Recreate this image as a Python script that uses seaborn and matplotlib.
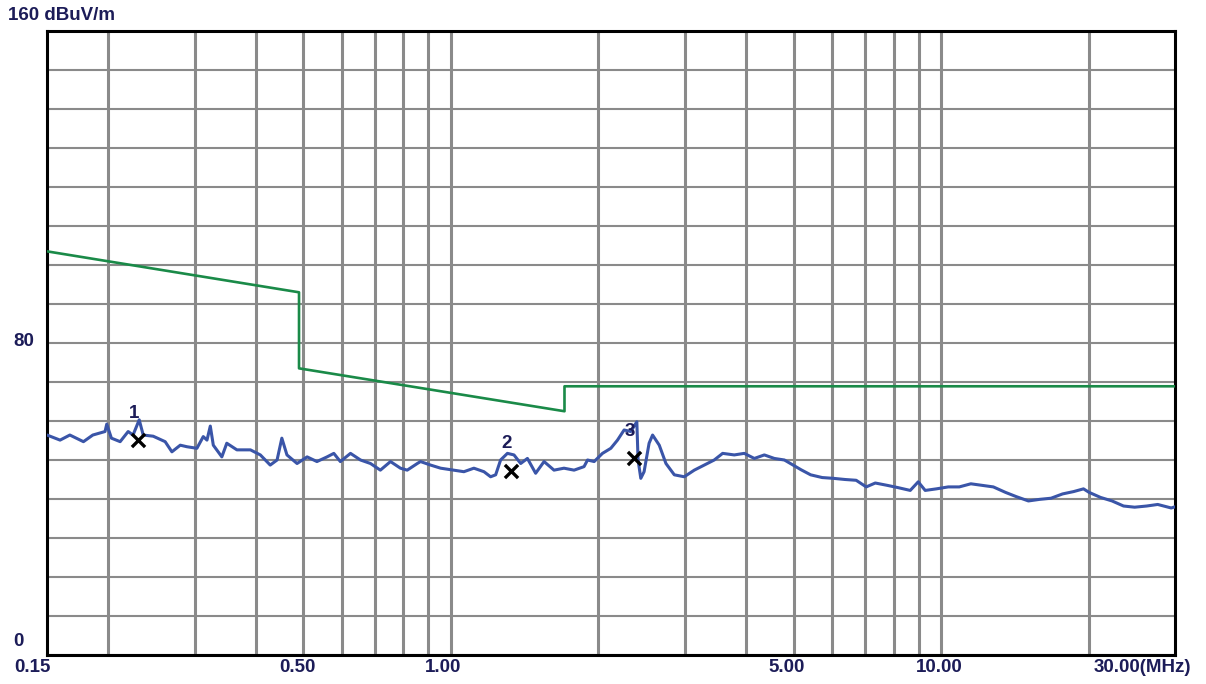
import numpy as np
import pandas as pd
import matplotlib
matplotlib.use("Agg")
import matplotlib.pyplot as plt
import seaborn as sns

# ---------------- data ----------------
trace_freq = [0.150, 0.1595, 0.167, 0.178, 0.186, 0.197, 0.1986, 0.203, 0.2115, 0.2196,
              0.2247, 0.2313, 0.2357, 0.247, 0.2613, 0.2697, 0.2805, 0.2895, 0.3033, 0.3125,
              0.318, 0.323, 0.3276, 0.341, 0.349, 0.366, 0.390, 0.4086, 0.428, 0.442,
              0.452, 0.463, 0.4855, 0.509, 0.533, 0.559, 0.577, 0.595, 0.624, 0.654,
              0.6855, 0.718, 0.753, 0.789, 0.8145, 0.854, 0.867, 0.909, 0.953, 1.014,
              1.063, 1.114, 1.168, 1.205, 1.234, 1.263, 1.304, 1.345, 1.388, 1.4325,
              1.489, 1.549, 1.623, 1.701, 1.7835, 1.869, 1.900, 1.960, 2.038, 2.1195,
              2.187, 2.256, 2.328, 2.395, 2.409, 2.44, 2.478, 2.537, 2.579, 2.661,
              2.746, 2.856, 2.9925, 3.137, 3.288, 3.445, 3.584, 3.785, 3.967, 4.159,
              4.359, 4.569, 4.79, 5.037, 5.18, 5.418, 5.72, 6.024, 6.37, 6.71,
              7.035, 7.34, 7.764, 8.18, 8.65, 8.98, 9.28, 9.78, 10.34, 10.89,
              11.50, 12.14, 12.78, 13.53, 14.24, 15.07, 15.87, 16.76, 17.69, 18.63,
              19.52, 20.04, 21.15, 22.32, 23.56, 24.82, 26.26, 27.66, 29.47, 30.0]
trace_level = [56.4, 55.1, 56.4, 54.7, 56.4, 57.3, 59.2, 55.6, 54.7, 57.3,
               56.4, 60.3, 56.4, 56.1, 54.7, 52.1, 53.8, 53.4, 53.0, 56.0,
               55.1, 58.7, 53.8, 50.8, 54.3, 52.6, 52.6, 51.3, 48.7, 50.0,
               55.6, 51.3, 49.1, 50.8, 49.6, 50.8, 51.7, 49.6, 51.7, 50.0,
               49.1, 47.4, 49.6, 47.9, 47.4, 49.1, 49.6, 48.7, 47.9, 47.4,
               47.0, 47.9, 47.0, 45.7, 46.2, 50.0, 51.7, 51.3, 49.1, 50.4,
               46.6, 49.6, 47.4, 47.9, 47.4, 48.3, 50.0, 49.6, 51.7, 53.0,
               55.1, 57.7, 57.3, 59.8, 50.0, 45.3, 47.0, 54.3, 56.4, 53.8,
               49.1, 46.2, 45.7, 47.4, 48.7, 50.0, 51.7, 51.3, 51.7, 50.4,
               51.3, 50.4, 50.0, 48.4, 47.5, 46.2, 45.5, 45.3, 45.0, 44.8,
               43.1, 44.1, 43.5, 42.9, 42.2, 44.4, 42.2, 42.6, 43.1, 43.1,
               43.9, 43.5, 43.1, 41.7, 40.6, 39.5, 39.9, 40.2, 41.3, 41.9,
               42.6, 41.7, 40.4, 39.5, 38.2, 37.9, 38.2, 38.6, 37.7, 38.0]

limit_freq = [0.15, 0.49, 0.49, 1.705, 1.705, 30.0]
limit_level = [103.5, 93.0, 73.5, 62.5, 68.9, 68.9]

marker_freq = [0.2304, 1.324, 2.366]
marker_level = [55.1, 47.2, 50.4]
marker_names = ["1", "2", "3"]

grid_freqs = [0.2, 0.3, 0.4, 0.5, 0.6, 0.7, 0.8, 0.9, 1.0,
              2, 3, 4, 5, 6, 7, 8, 9, 10, 20]
grid_levels = list(range(0, 161, 10))

xtick_freqs = [0.15, 0.5, 1.0, 5.0, 10.0, 30.0]
xtick_labels = ["0.15", "0.50", "1.00", "5.00", "10.00", "30.00(MHz)"]
ytick_levels = [160, 80, 0]
ytick_labels = ["160 dBuV/m", "80", "0"]

# ---------------- style ----------------
sns.set_theme(style="white")
plt.rcParams["font.family"] = ["Liberation Sans", "DejaVu Sans"]

TXT = "#1c1c58"
GRID = "#8a8a8a"
BLUE = "#3a55a8"
GREEN = "#1a8a48"
FS = 13.5

W, H = 1206, 684
fig = plt.figure(figsize=(W / 100, H / 100), dpi=100)
L, R, T, B = 47, 1175, 31, 655
ax = fig.add_axes([L / W, (H - B) / H, (R - L) / W, (B - T) / H])

trace_df = pd.DataFrame({"freq": trace_freq, "level": trace_level})
limit_df = pd.DataFrame({"freq": limit_freq, "level": limit_level})

sns.lineplot(data=limit_df, x="freq", y="level", ax=ax, color=GREEN,
             linewidth=1.9, estimator=None, sort=False, zorder=3)
sns.lineplot(data=trace_df, x="freq", y="level", ax=ax, color=BLUE,
             linewidth=2.2, estimator=None, sort=False, zorder=4)

ax.set_xscale("log")
ax.set_xlim(0.15, 30)
ax.set_ylim(0, 160)

ax.set_xticks(grid_freqs)
ax.set_xticks([], minor=True)
ax.set_yticks(grid_levels)
ax.set_xticklabels([])
ax.set_yticklabels([])
ax.tick_params(length=0)
ax.grid(axis="x", color=GRID, linewidth=2.2, zorder=1)
ax.grid(axis="y", color=GRID, linewidth=1.5, zorder=1)
ax.set_axisbelow(True)
ax.set_xlabel("")
ax.set_ylabel("")
for s in ax.spines.values():
    s.set_color("black")
    s.set_linewidth(2.2)
    s.set_visible(True)

# markers
ax.scatter(marker_freq, marker_level, marker="x", s=90, color="black",
           linewidths=2.4, zorder=6)
for f, v, n in zip(marker_freq, marker_level, marker_names):
    ax.annotate(n, xy=(f, v), xytext=(-4, 27), textcoords="offset pixels",
                ha="center", va="center", fontsize=FS, fontweight="bold",
                color=TXT, zorder=7)

# x labels
x_off = [-15, -6, -8, -7, -2, -33]
for f, lab, dx in zip(xtick_freqs, xtick_labels, x_off):
    ax.annotate(lab, xy=(f, 0), xycoords=("data", "axes fraction"),
                xytext=(dx, -13), textcoords="offset pixels",
                ha="center", va="center", fontsize=FS, fontweight="bold",
                color=TXT, annotation_clip=False)

# y labels
y_off = [(-39, 15), (-34, 2), (-34, 13)]
for v, lab, (dx, dy) in zip(ytick_levels, ytick_labels, y_off):
    ax.annotate(lab, xy=(0, v), xycoords=("axes fraction", "data"),
                xytext=(dx, dy), textcoords="offset pixels",
                ha="left", va="center", fontsize=FS, fontweight="bold",
                color=TXT, annotation_clip=False)

fig.savefig("out.png", dpi=100)
